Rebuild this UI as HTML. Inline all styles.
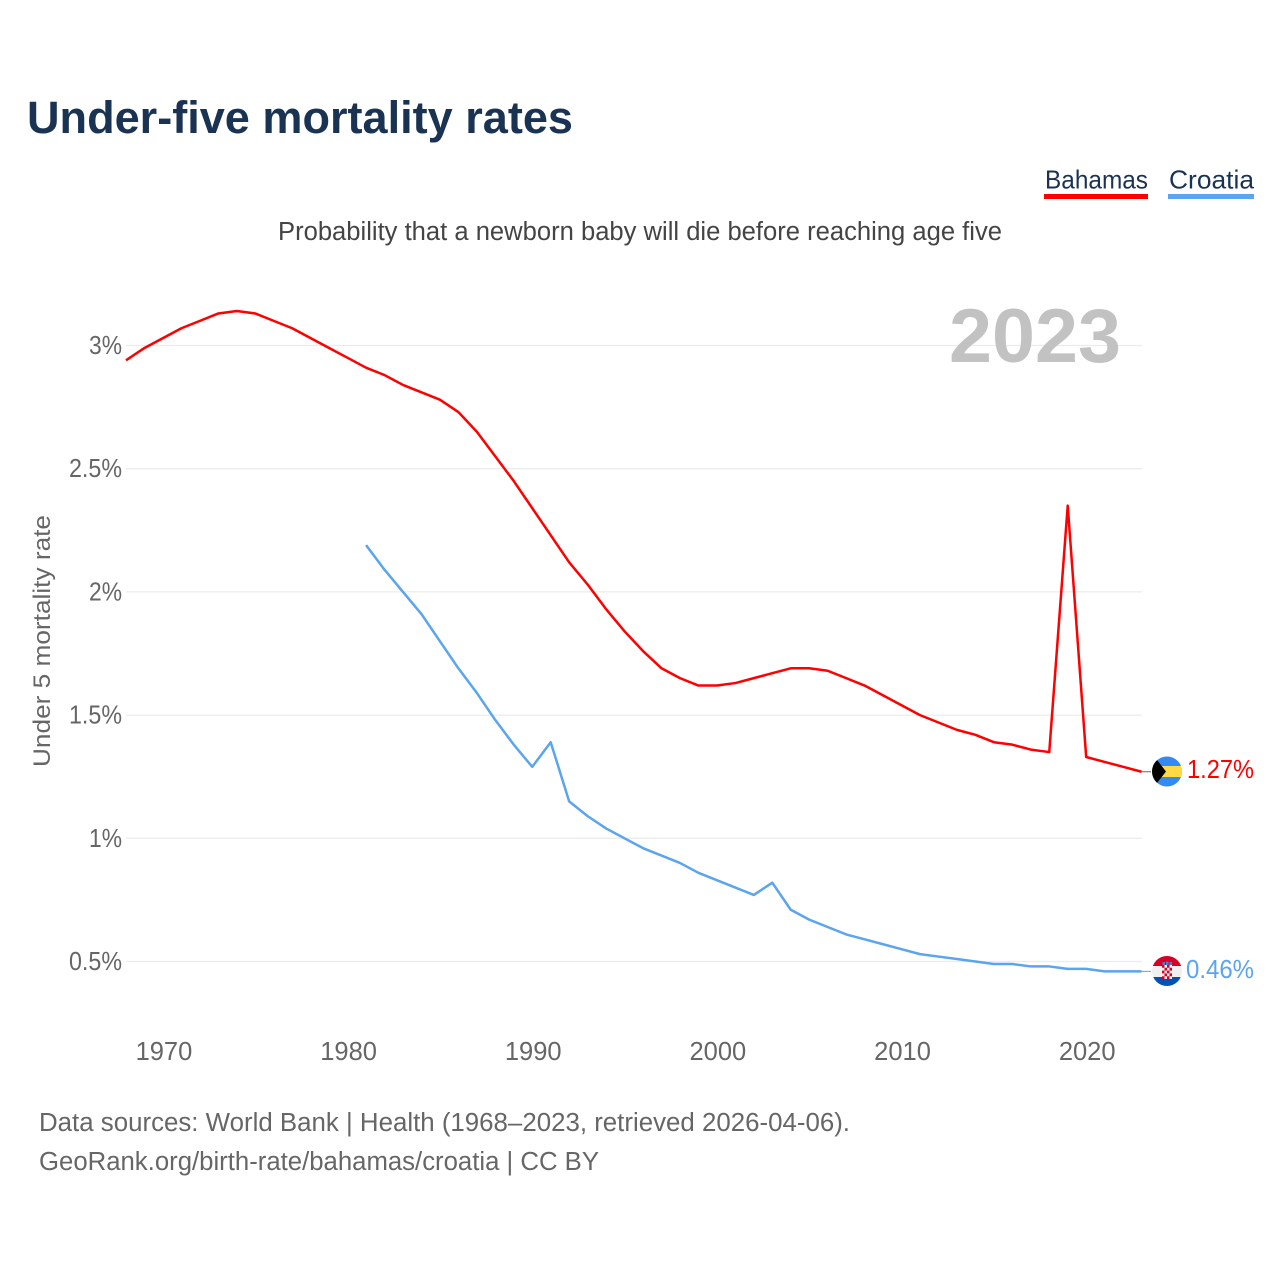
<!DOCTYPE html>
<html lang="en">
<head>
<meta charset="utf-8">
<title>Under-five mortality rates</title>
<style>
html,body{margin:0;padding:0;background:#fff;}
svg{display:block;font-family:"Liberation Sans",sans-serif;}
</style>
</head>
<body>
<svg id="chart" width="1280" height="1280" viewBox="0 0 1280 1280" xmlns="http://www.w3.org/2000/svg">
  <defs>
    <clipPath id="flag-clip-a"><circle cx="1167" cy="771.5" r="15"/></clipPath>
    <clipPath id="flag-clip-b"><circle cx="1167" cy="971" r="15"/></clipPath>
  </defs>
  <rect width="1280" height="1280" fill="#fff"/>
  <text x="27" y="133" font-size="45" font-weight="700" fill="#1a3353" textLength="546" lengthAdjust="spacingAndGlyphs">Under-five mortality rates</text>
  <g>
    <g>
      <text x="1045" y="188.500" font-size="26" fill="#1a3353" textLength="103" lengthAdjust="spacingAndGlyphs">Bahamas</text>
      <rect x="1044" y="194" width="104" height="5" fill="#ff0000"/>
    </g>
    <g>
      <text x="1169" y="188.500" font-size="26" fill="#1a3353" textLength="85" lengthAdjust="spacingAndGlyphs">Croatia</text>
      <rect x="1168" y="194" width="86" height="5" fill="#5ba4ee"/>
    </g>
  </g>
  <text x="278" y="240" font-size="25.5" fill="#444" textLength="724" lengthAdjust="spacingAndGlyphs">Probability that a newborn baby will die before reaching age five</text>
  <g id="grid"></g>
  <text x="949" y="362" font-size="76" font-weight="700" fill="#c2c2c2" textLength="172" lengthAdjust="spacingAndGlyphs">2023</text>
  <g id="y-ticks"></g>
  <g id="x-ticks"></g>
  <text transform="translate(50,767) rotate(-90)" x="0" y="0" font-size="24.5" fill="#666" textLength="252" lengthAdjust="spacingAndGlyphs">Under 5 mortality rate</text>
  <g id="series"></g>
  <g clip-path="url(#flag-clip-a)">
    <rect x="1152" y="756" width="30" height="31" fill="#338af3"/>
    <rect x="1152" y="766" width="30" height="11" fill="#ffda44"/>
    <polygon points="1150,751 1166,771.5 1150,792" fill="#000"/>
  </g>
  <g clip-path="url(#flag-clip-b)">
    <rect x="1152" y="956" width="30" height="10" fill="#d80027"/>
    <rect x="1152" y="966" width="30" height="11" fill="#f0f0f0"/>
    <rect x="1152" y="977" width="30" height="10" fill="#0052b4"/>
    <path d="M1162.500 962h2.500v3h-2.500zM1166 961.500h2.500v3.500h-2.500zM1169.500 962h2.500v3h-2.500z" fill="#4a7fd0"/>
    <rect x="1162" y="965" width="10" height="14" fill="#f0f0f0"/>
    <path d="M1162 965h2.500v2.800h-2.500zM1167 965h2.500v2.800h-2.500zM1164.500 967.800h2.500v2.800h-2.500zM1169.500 967.800h2.500v2.800h-2.500zM1162 970.600h2.500v2.800h-2.500zM1167 970.600h2.500v2.800h-2.500zM1164.500 973.400h2.500v2.800h-2.500zM1169.500 973.400h2.500v2.800h-2.500zM1162 976.200h2.500v2.800h-2.500zM1167 976.200h2.500v2.800h-2.500z" fill="#d80027"/>
  </g>
  <text x="1254" y="778" font-size="25.5" fill="#ff0000" text-anchor="end" textLength="67" lengthAdjust="spacingAndGlyphs" id="value-a"></text>
  <text x="1254" y="978" font-size="25.5" fill="#5ba4ee" text-anchor="end" textLength="68" lengthAdjust="spacingAndGlyphs" id="value-b"></text>
  <text x="39" y="1131" font-size="25.5" fill="#666" textLength="811" lengthAdjust="spacingAndGlyphs">Data sources: World Bank | Health (1968–2023, retrieved 2026-04-06).</text>
  <text x="39" y="1170" font-size="25.5" fill="#666" textLength="560" lengthAdjust="spacingAndGlyphs">GeoRank.org/birth-rate/bahamas/croatia | CC BY</text>
<script>
const yearsBahamas = [1968,1969,1970,1971,1972,1973,1974,1975,1976,1977,1978,1979,1980,1981,1982,1983,1984,1985,1986,1987,1988,1989,1990,1991,1992,1993,1994,1995,1996,1997,1998,1999,2000,2001,2002,2003,2004,2005,2006,2007,2008,2009,2010,2011,2012,2013,2014,2015,2016,2017,2018,2019,2020,2021,2022,2023];
const valuesBahamas = [2.94,2.99,3.03,3.07,3.10,3.13,3.14,3.13,3.10,3.07,3.03,2.99,2.95,2.91,2.88,2.84,2.81,2.78,2.73,2.65,2.55,2.45,2.34,2.23,2.12,2.03,1.93,1.84,1.76,1.69,1.65,1.62,1.62,1.63,1.65,1.67,1.69,1.69,1.68,1.65,1.62,1.58,1.54,1.50,1.47,1.44,1.42,1.39,1.38,1.36,1.35,2.35,1.33,1.31,1.29,1.27];
const yearsCroatia = [1981,1982,1983,1984,1985,1986,1987,1988,1989,1990,1991,1992,1993,1994,1995,1996,1997,1998,1999,2000,2001,2002,2003,2004,2005,2006,2007,2008,2009,2010,2011,2012,2013,2014,2015,2016,2017,2018,2019,2020,2021,2022,2023];
const valuesCroatia = [2.19,2.09,2.00,1.91,1.80,1.69,1.59,1.48,1.38,1.29,1.39,1.15,1.09,1.04,1.00,0.96,0.93,0.90,0.86,0.83,0.80,0.77,0.82,0.71,0.67,0.64,0.61,0.59,0.57,0.55,0.53,0.52,0.51,0.50,0.49,0.49,0.48,0.48,0.47,0.47,0.46,0.46,0.46];
const yTickValues = [0.5,1,1.5,2,2.5,3];
const yTickLabels = ["0.5%","1%","1.5%","2%","2.5%","3%"];
const xTickValues = [1970,1980,1990,2000,2010,2020];
const xTickLabels = ["1970","1980","1990","2000","2010","2020"];

const NS = "http://www.w3.org/2000/svg";
function xScale(year){ return 126 + (year - 1968) * 18.465; }
function yScale(v){ return 961.5 - (v - 0.5) * 246.4; }
function labelWidth(s){
  let w = 0;
  for (const c of s) w += c === "%" ? 19 : c === "." ? 6 : 14;
  return w;
}
function make(tag, parent, attrs){
  const el = document.createElementNS(NS, tag);
  for (const k in attrs) el.setAttribute(k, attrs[k]);
  parent.appendChild(el);
  return el;
}
const grid = document.getElementById("grid");
const yTicks = document.getElementById("y-ticks");
const xTicks = document.getElementById("x-ticks");
const series = document.getElementById("series");

yTickValues.forEach(function(v, i){
  const line = make("line", grid, {x1:126, x2:1142, y1:yScale(v), y2:yScale(v), stroke:"#ececec", "stroke-width":1.3});
  
  
  const label = make("text", yTicks, {x:122, y:yScale(v)+8.5, "font-size":25.5, fill:"#666", "text-anchor":"end", textLength:labelWidth(yTickLabels[i]), lengthAdjust:"spacingAndGlyphs"});
  label.textContent = yTickLabels[i];
  
  
});
xTickValues.forEach(function(yr, i){
  const label = make("text", xTicks, {x:xScale(yr)+1, y:1060, "font-size":25.5, fill:"#666", "text-anchor":"middle"});
  label.textContent = xTickLabels[i];
  
  
});
function pathFor(years, values){
  return values.map(function(v, i){ return (i ? "L" : "M") + xScale(years[i]).toFixed(2) + " " + yScale(v).toFixed(2); }).join(" ");
}
const lineB = make("path", series, {d:pathFor(yearsBahamas, valuesBahamas), fill:"none", stroke:"#ff0000", "stroke-width":2.5, "stroke-linejoin":"round"});


const lineC = make("path", series, {d:pathFor(yearsCroatia, valuesCroatia), fill:"none", stroke:"#5ba4ee", "stroke-width":2.5, "stroke-linejoin":"round"});


const endYear = 2023;
const connB = make("line", series, {x1:xScale(endYear), x2:1151, y1:yScale(valuesBahamas[valuesBahamas.length-1]), y2:yScale(valuesBahamas[valuesBahamas.length-1]), stroke:"#666", "stroke-width":1});


const connC = make("line", series, {x1:xScale(endYear), x2:1151, y1:yScale(valuesCroatia[valuesCroatia.length-1]), y2:yScale(valuesCroatia[valuesCroatia.length-1]), stroke:"#5ba4ee", "stroke-width":1});


document.getElementById("value-a").textContent = valuesBahamas[valuesBahamas.length-1].toFixed(2) + "%";
document.getElementById("value-b").textContent = valuesCroatia[valuesCroatia.length-1].toFixed(2) + "%";
</script>
</svg>
</body>
</html>
